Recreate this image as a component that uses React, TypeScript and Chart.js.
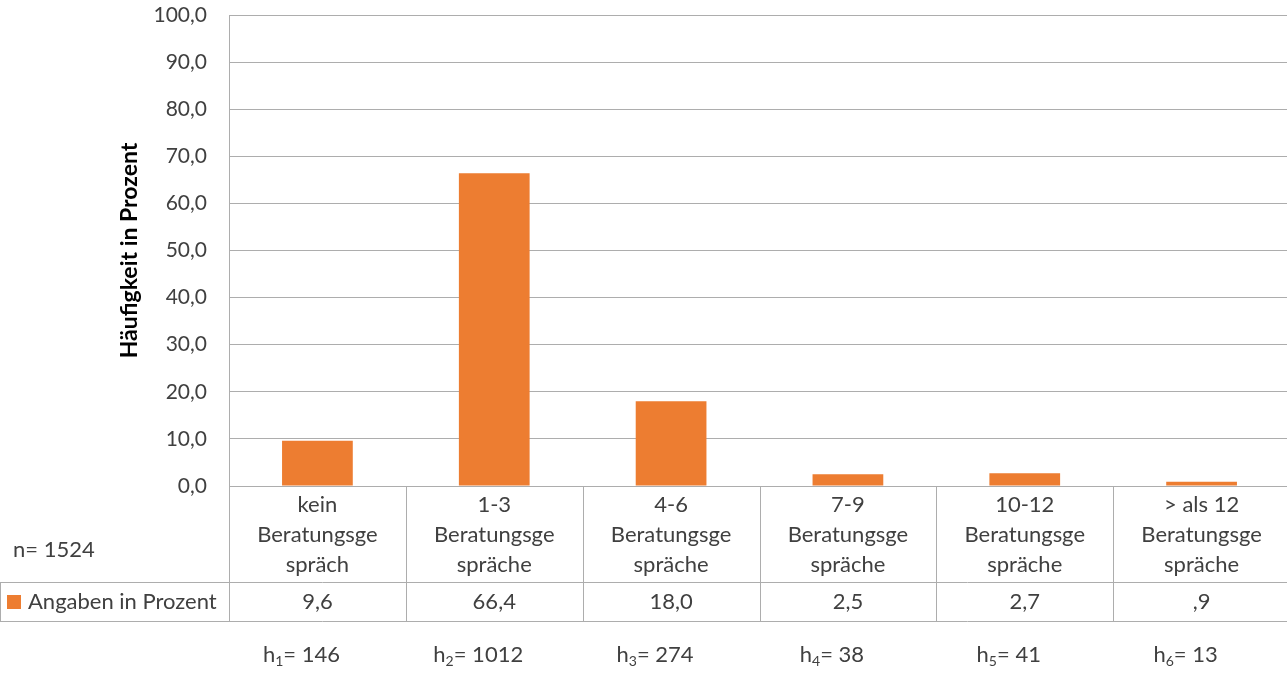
import React, { useEffect, useRef } from "react";
import { Chart, registerables } from "chart.js";

Chart.register(...registerables);

// ---- data ----
const categoryLines: string[][] = [
  ["kein", "Beratungsge", "spräch"],
  ["1-3", "Beratungsge", "spräche"],
  ["4-6", "Beratungsge", "spräche"],
  ["7-9", "Beratungsge", "spräche"],
  ["10-12", "Beratungsge", "spräche"],
  ["> als 12", "Beratungsge", "spräche"],
];
const percentValues = [9.6, 66.4, 18.0, 2.5, 2.7, 0.9];
const percentLabels = ["9,6", "66,4", "18,0", "2,5", "2,7", ",9"];
const caseCounts = [146, 1012, 274, 38, 41, 13];
const seriesName = "Angaben in Prozent";
const sampleNote = "n= 1524";
const axisTitle = "Häufigkeit in Prozent";

const BAR = "#ED7D31";
const GRID = "#ADADAD";
const TEXT = "#404040";
const FONT = "Lato";
const TXT = 22;

const tablePlugin = {
  id: "dataTable",
  afterDraw(chart: any) {
    const ctx = chart.ctx;
    const xs = chart.scales.x;
    const area = chart.chartArea;
    const n = categoryLines.length;
    const cw = (area.right - area.left) / n;
    const top = area.bottom;
    const rowMid = top + 96;
    const rowBot = rowMid + 39;
    ctx.save();
    ctx.strokeStyle = GRID;
    ctx.lineWidth = 1;
    ctx.beginPath();
    ctx.moveTo(0, Math.round(rowMid) + 0.5);
    ctx.lineTo(chart.width, Math.round(rowMid) + 0.5);
    ctx.moveTo(0, Math.round(rowBot) + 0.5);
    ctx.lineTo(chart.width, Math.round(rowBot) + 0.5);
    ctx.moveTo(0.5, Math.round(rowMid));
    ctx.lineTo(0.5, Math.round(rowBot) + 1);
    for (let i = 0; i <= n; i++) {
      const bx = Math.round(xs.getPixelForValue(i) - cw / 2) + 0.5;
      ctx.moveTo(bx, Math.round(top));
      ctx.lineTo(bx, Math.round(rowBot) + 1);
    }
    ctx.stroke();

    ctx.fillStyle = TEXT;
    ctx.font = `${TXT}px ${FONT}`;
    ctx.textAlign = "center";
    ctx.textBaseline = "middle";
    for (let i = 0; i < n; i++) {
      const cx = xs.getPixelForValue(i);
      categoryLines[i].forEach((ln, j) => {
        ctx.fillText(ln, cx, top + 19 + j * 30);
      });
      ctx.fillText(percentLabels[i], cx, rowMid + 20);
    }

    ctx.fillStyle = BAR;
    ctx.fillRect(7, rowMid + 13, 14, 14);
    ctx.fillStyle = TEXT;
    ctx.textAlign = "left";
    ctx.fillText(seriesName, 28, rowMid + 20);

    ctx.fillText(sampleNote, 13, top + 64);

    for (let i = 0; i < n; i++) {
      const cx = xs.getPixelForValue(i) - 16;
      const yy = rowBot + 34;
      const sub = String(i + 1);
      const rest = "= " + caseCounts[i];
      ctx.font = `${TXT}px ${FONT}`;
      const wh = ctx.measureText("h").width;
      const wr = ctx.measureText(rest).width;
      ctx.font = `14px ${FONT}`;
      const ws = ctx.measureText(sub).width;
      const total = wh + ws + wr;
      let sx = cx - total / 2;
      ctx.textAlign = "left";
      ctx.font = `${TXT}px ${FONT}`;
      ctx.fillText("h", sx, yy);
      sx += wh;
      ctx.font = `14px ${FONT}`;
      ctx.fillText(sub, sx, yy + 6);
      sx += ws;
      ctx.font = `${TXT}px ${FONT}`;
      ctx.fillText(rest, sx, yy);
    }
    ctx.restore();
  },
};

export default function App() {
  const ref = useRef<HTMLCanvasElement | null>(null);
  useEffect(() => {
    if (!ref.current) return;
    const chart = new Chart(ref.current, {
      type: "bar",
      data: {
        labels: categoryLines.map((l) => l.join(" ")),
        datasets: [
          {
            label: seriesName,
            data: percentValues,
            backgroundColor: BAR,
            borderWidth: 0,
            categoryPercentage: 1,
            barPercentage: 0.4,
          },
        ],
      },
      options: {
        responsive: false,
        animation: false,
        devicePixelRatio: 1,
        layout: { padding: { left: 0, right: 0, top: 15, bottom: 187 } },
        plugins: { legend: { display: false }, tooltip: { enabled: false } },
        scales: {
          x: { display: false },
          y: {
            min: 0,
            max: 100,
            afterFit: (s: any) => {
              s.width = 229;
              s.paddingTop = 0;
              s.paddingBottom = 0;
            },
            ticks: {
              stepSize: 10,
              padding: 22,
              color: TEXT,
              font: { family: FONT, size: 21 },
              callback: (v: any) => Number(v).toFixed(1).replace(".", ","),
            },
            grid: { color: GRID, lineWidth: 1, drawTicks: false },
            border: { display: true, color: GRID, width: 1 },
            title: {
              display: true,
              text: axisTitle,
              color: "#000000",
              font: { family: FONT, size: 23, weight: "bold" },
              padding: { top: 116, bottom: 0 },
            },
          },
        },
      },
      plugins: [tablePlugin],
    });
    return () => chart.destroy();
  }, []);
  return (
    <div
      style={{
        position: "fixed",
        left: 0,
        top: 0,
        width: 1287,
        height: 673,
        overflow: "hidden",
        background: "#fff",
      }}
    >
      <canvas ref={ref} width={1290} height={673} style={{ display: "block" }} />
    </div>
  );
}
